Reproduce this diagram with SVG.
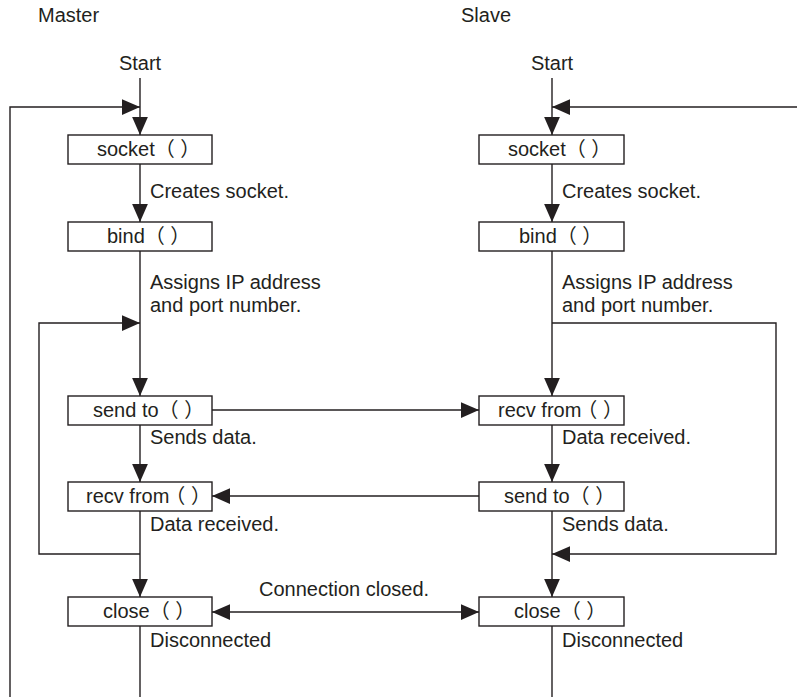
<svg xmlns="http://www.w3.org/2000/svg" width="797" height="697" viewBox="0 0 797 697">
<style>
text{font-family:"Liberation Sans","Noto Sans CJK JP",Arial,sans-serif;font-size:20px;fill:#231f20}
.lbl{text-anchor:middle}
.box{fill:#fff;stroke:#231f20;stroke-width:1.4}
.c{fill:none;stroke:#231f20;stroke-width:1.4}
.a{marker-end:url(#ah)}
</style>
<defs>
<marker id="ah" markerUnits="userSpaceOnUse" markerWidth="18" markerHeight="16" viewBox="0 0 16 14" refX="16" refY="7" orient="auto-start-reverse">
<path d="M0,0 L16,7 L0,14 Z" fill="#231f20"/>
</marker>
</defs>
<rect width="797" height="697" fill="#fff"/>
<text x="38" y="22">Master</text>
<text x="461" y="22">Slave</text>
<text x="140" y="70" class="lbl">Start</text>
<text x="552" y="70" class="lbl">Start</text>
<g id="connectors">
<path class="c a" d="M140,78 V135"/>
<path class="c a" d="M10,697 V107 H140"/>
<path class="c a" d="M140,164 V222"/>
<path class="c a" d="M140,251 V396"/>
<path class="c a" d="M140,554 H39 V323 H140"/>
<path class="c a" d="M140,425 V482"/>
<path class="c a" d="M140,511 V597"/>
<path class="c" d="M140,626 V697"/>
<path class="c a" d="M212,410 H479"/>
<path class="c a" d="M479,496 H212"/>
<path class="c a" style="marker-start:url(#ah)" d="M212,612 H479"/>
<path class="c a" d="M552,78 V135"/>
<path class="c a" d="M797,107 H552"/>
<path class="c a" d="M552,164 V222"/>
<path class="c a" d="M552,251 V396"/>
<path class="c a" d="M552,323 H776 V554 H552"/>
<path class="c a" d="M552,425 V482"/>
<path class="c a" d="M552,511 V597"/>
<path class="c" d="M552,626 V697"/>
</g>
<g id="m-socket"><rect class="box" x="68" y="135" width="144" height="29"/><text x="97" y="156">socket<tspan dx="0">（ ）</tspan></text></g>
<g id="m-bind"><rect class="box" x="68" y="222" width="144" height="29"/><text x="107" y="243">bind<tspan dx="0">（ ）</tspan></text></g>
<g id="m-send"><rect class="box" x="68" y="396" width="144" height="29"/><text x="93" y="417">send to<tspan dx="0">（ ）</tspan></text></g>
<g id="m-recv"><rect class="box" x="68" y="482" width="144" height="29"/><text x="86" y="503">recv from<tspan dx="-4">（ ）</tspan></text></g>
<g id="m-close"><rect class="box" x="68" y="597" width="144" height="29"/><text x="103" y="618">close<tspan dx="0">（ ）</tspan></text></g>
<g id="s-socket"><rect class="box" x="479" y="135" width="145" height="29"/><text x="508" y="156">socket<tspan dx="0">（ ）</tspan></text></g>
<g id="s-bind"><rect class="box" x="479" y="222" width="145" height="29"/><text x="519" y="243">bind<tspan dx="0">（ ）</tspan></text></g>
<g id="s-recv"><rect class="box" x="479" y="396" width="145" height="29"/><text x="498" y="417">recv from<tspan dx="-4">（ ）</tspan></text></g>
<g id="s-send"><rect class="box" x="479" y="482" width="145" height="29"/><text x="504" y="503">send to<tspan dx="0">（ ）</tspan></text></g>
<g id="s-close"><rect class="box" x="479" y="597" width="145" height="29"/><text x="514" y="618">close<tspan dx="0">（ ）</tspan></text></g>
<g id="labels">
<text x="150" y="198">Creates socket.</text>
<text x="562" y="198">Creates socket.</text>
<text x="150" y="289">Assigns IP address</text>
<text x="150" y="312">and port number.</text>
<text x="562" y="289">Assigns IP address</text>
<text x="562" y="312">and port number.</text>
<text x="150" y="444">Sends data.</text>
<text x="562" y="444">Data received.</text>
<text x="150" y="531">Data received.</text>
<text x="562" y="531">Sends data.</text>
<text x="259" y="596">Connection closed.</text>
<text x="150" y="647">Disconnected</text>
<text x="562" y="647">Disconnected</text>
</g>
</svg>
